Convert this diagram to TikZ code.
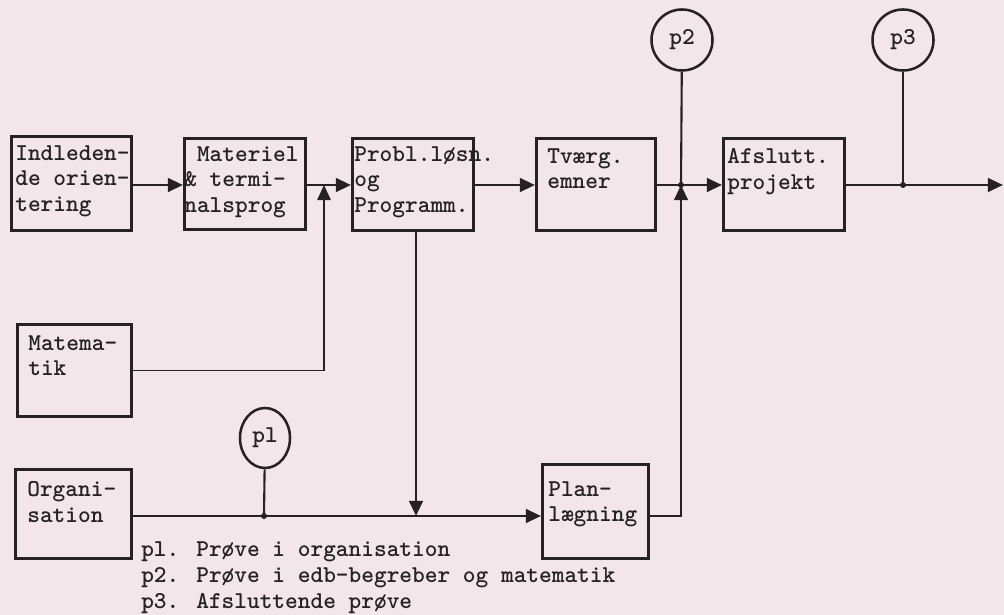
\documentclass[tikz,border=0pt]{standalone}
\usepackage{fontspec}
\usepackage{xcolor}
\usepackage{tikz}
\usetikzlibrary{shapes.geometric, arrows.meta, calc}
\newfontfamily\typewriterfont{lmmonolt10-bold.otf}
\definecolor{paper}{RGB}{242,230,234}
\definecolor{ink}{RGB}{38,34,36}
\newcommand{\typed}{\typewriterfont\fontsize{17.2}{18.4}\selectfont}
% box text: width, height, left margin, top margin, lines
\newcommand{\boxtext}[5]{%
  \begin{minipage}[t][#2][t]{#1}\raggedright\hyphenpenalty=10000\exhyphenpenalty=10000
  \leftskip=#3\relax\vspace*{#4}#5\end{minipage}}
\tikzset{
  blockbox/.style={
    draw=ink, line width=1.9pt, inner sep=0pt, anchor=north west,
    text=ink, font=\typed
  },
  testring/.style={
    draw=ink, ellipse, line width=1.8pt, inner sep=0pt, text=ink, font=\typed,
    minimum width=1.525cm, minimum height=1.525cm
  },
  flow/.style={draw=ink, line width=2pt, -{Triangle[length=0.38cm, width=0.34cm]}},
  plainline/.style={draw=ink, line width=1.5pt},
  legendtext/.style={font=\typed, text=ink, align=left, anchor=base west, inner sep=0pt},
}

\begin{document}
\begin{tikzpicture}[x=0.025cm, y=-0.025cm]
  \useasboundingbox (0,0) rectangle (1004,615);
  \fill[paper] (0,0) rectangle (1004,615);

  % Course blocks, top row
  \node[blockbox] (indl) at (10,135) {\boxtext{3cm}{2.35cm}{0.1cm}{0.225cm}{Indleden-\\de~orien-\\tering}};
  \node[blockbox] (matr) at (183,137) {\boxtext{3.025cm}{2.275cm}{0cm}{0.2cm}{\ Materiel\\\&~termi-\\nalsprog}};
  \node[blockbox] (prob) at (351,137) {\boxtext{3.025cm}{2.3cm}{0.05cm}{0.2cm}{Probl.løsn.\\og\\Programm.}};
  \node[blockbox] (tvaerg) at (535,137) {\boxtext{2.975cm}{2.3cm}{0.275cm}{0.25cm}{Tværg.\\emner}};
  \node[blockbox] (afsl) at (722,137) {\boxtext{3.025cm}{2.3cm}{0.1cm}{0.25cm}{Afslutt.\\projekt}};

  % Side blocks
  \node[blockbox] (matem) at (16,323) {\boxtext{2.85cm}{2.3cm}{0.275cm}{0.275cm}{Matema-\\tik}};
  \node[blockbox] (org) at (14,468) {\boxtext{2.9cm}{2.225cm}{0.3cm}{0.3cm}{Organi-\\sation}};
  \node[blockbox] (plan) at (541,463) {\boxtext{2.65cm}{2.35cm}{0.15cm}{0.425cm}{Plan-\\lægning}};

  % Tests
  \node[testring, minimum width=1.25cm, minimum height=1.5cm] (p1) at (265,438) {pl};
  \node[testring] (p2) at (682,40) {p2};
  \node[testring] (p3) at (903,40) {p3};

  % Junctions
  \coordinate (jmat) at (324,185);
  \coordinate (jp2) at (681,185);
  \coordinate (jp3) at (903,185);
  \coordinate (out) at (1003,185);
  \coordinate (jp1) at (264,516);
  \coordinate (jprob) at (416,516);

  % Flow
  \draw[flow] (indl.east |- jmat) -- (matr.west |- jmat);
  \draw[flow] (matr.east |- jmat) -- (prob.west |- jmat);
  \draw[flow, line width=1.2pt] (matem.east) -| (jmat);
  \draw[flow] (prob.east |- jmat) -- (tvaerg.west |- jmat);
  \draw[flow] (tvaerg.east |- jp2) -- (afsl.west |- jp2);
  \draw[plainline] (p2) -- (jp2);
  \draw[flow] (plan.east |- jprob) -| (jp2);
  \draw[flow] (afsl.east |- jp3) -- (out);
  \draw[plainline] (p3) -- (jp3);
  \draw[flow] (jprob |- prob.south) -- (jprob);
  \draw[flow] (org.east |- jp1) -- (plan.west |- jp1);
  \draw[plainline] (p1) -- (jp1);
  \foreach \j in {jp1, jp2, jp3} \fill[ink] (\j) circle[radius=0.075cm];

  % Legend
  \node[legendtext] (legend) at (141,608) {pl. Prøve i organisation\\p2. Prøve i edb-begreber og matematik\\p3. Afsluttende prøve};
\end{tikzpicture}
\end{document}
